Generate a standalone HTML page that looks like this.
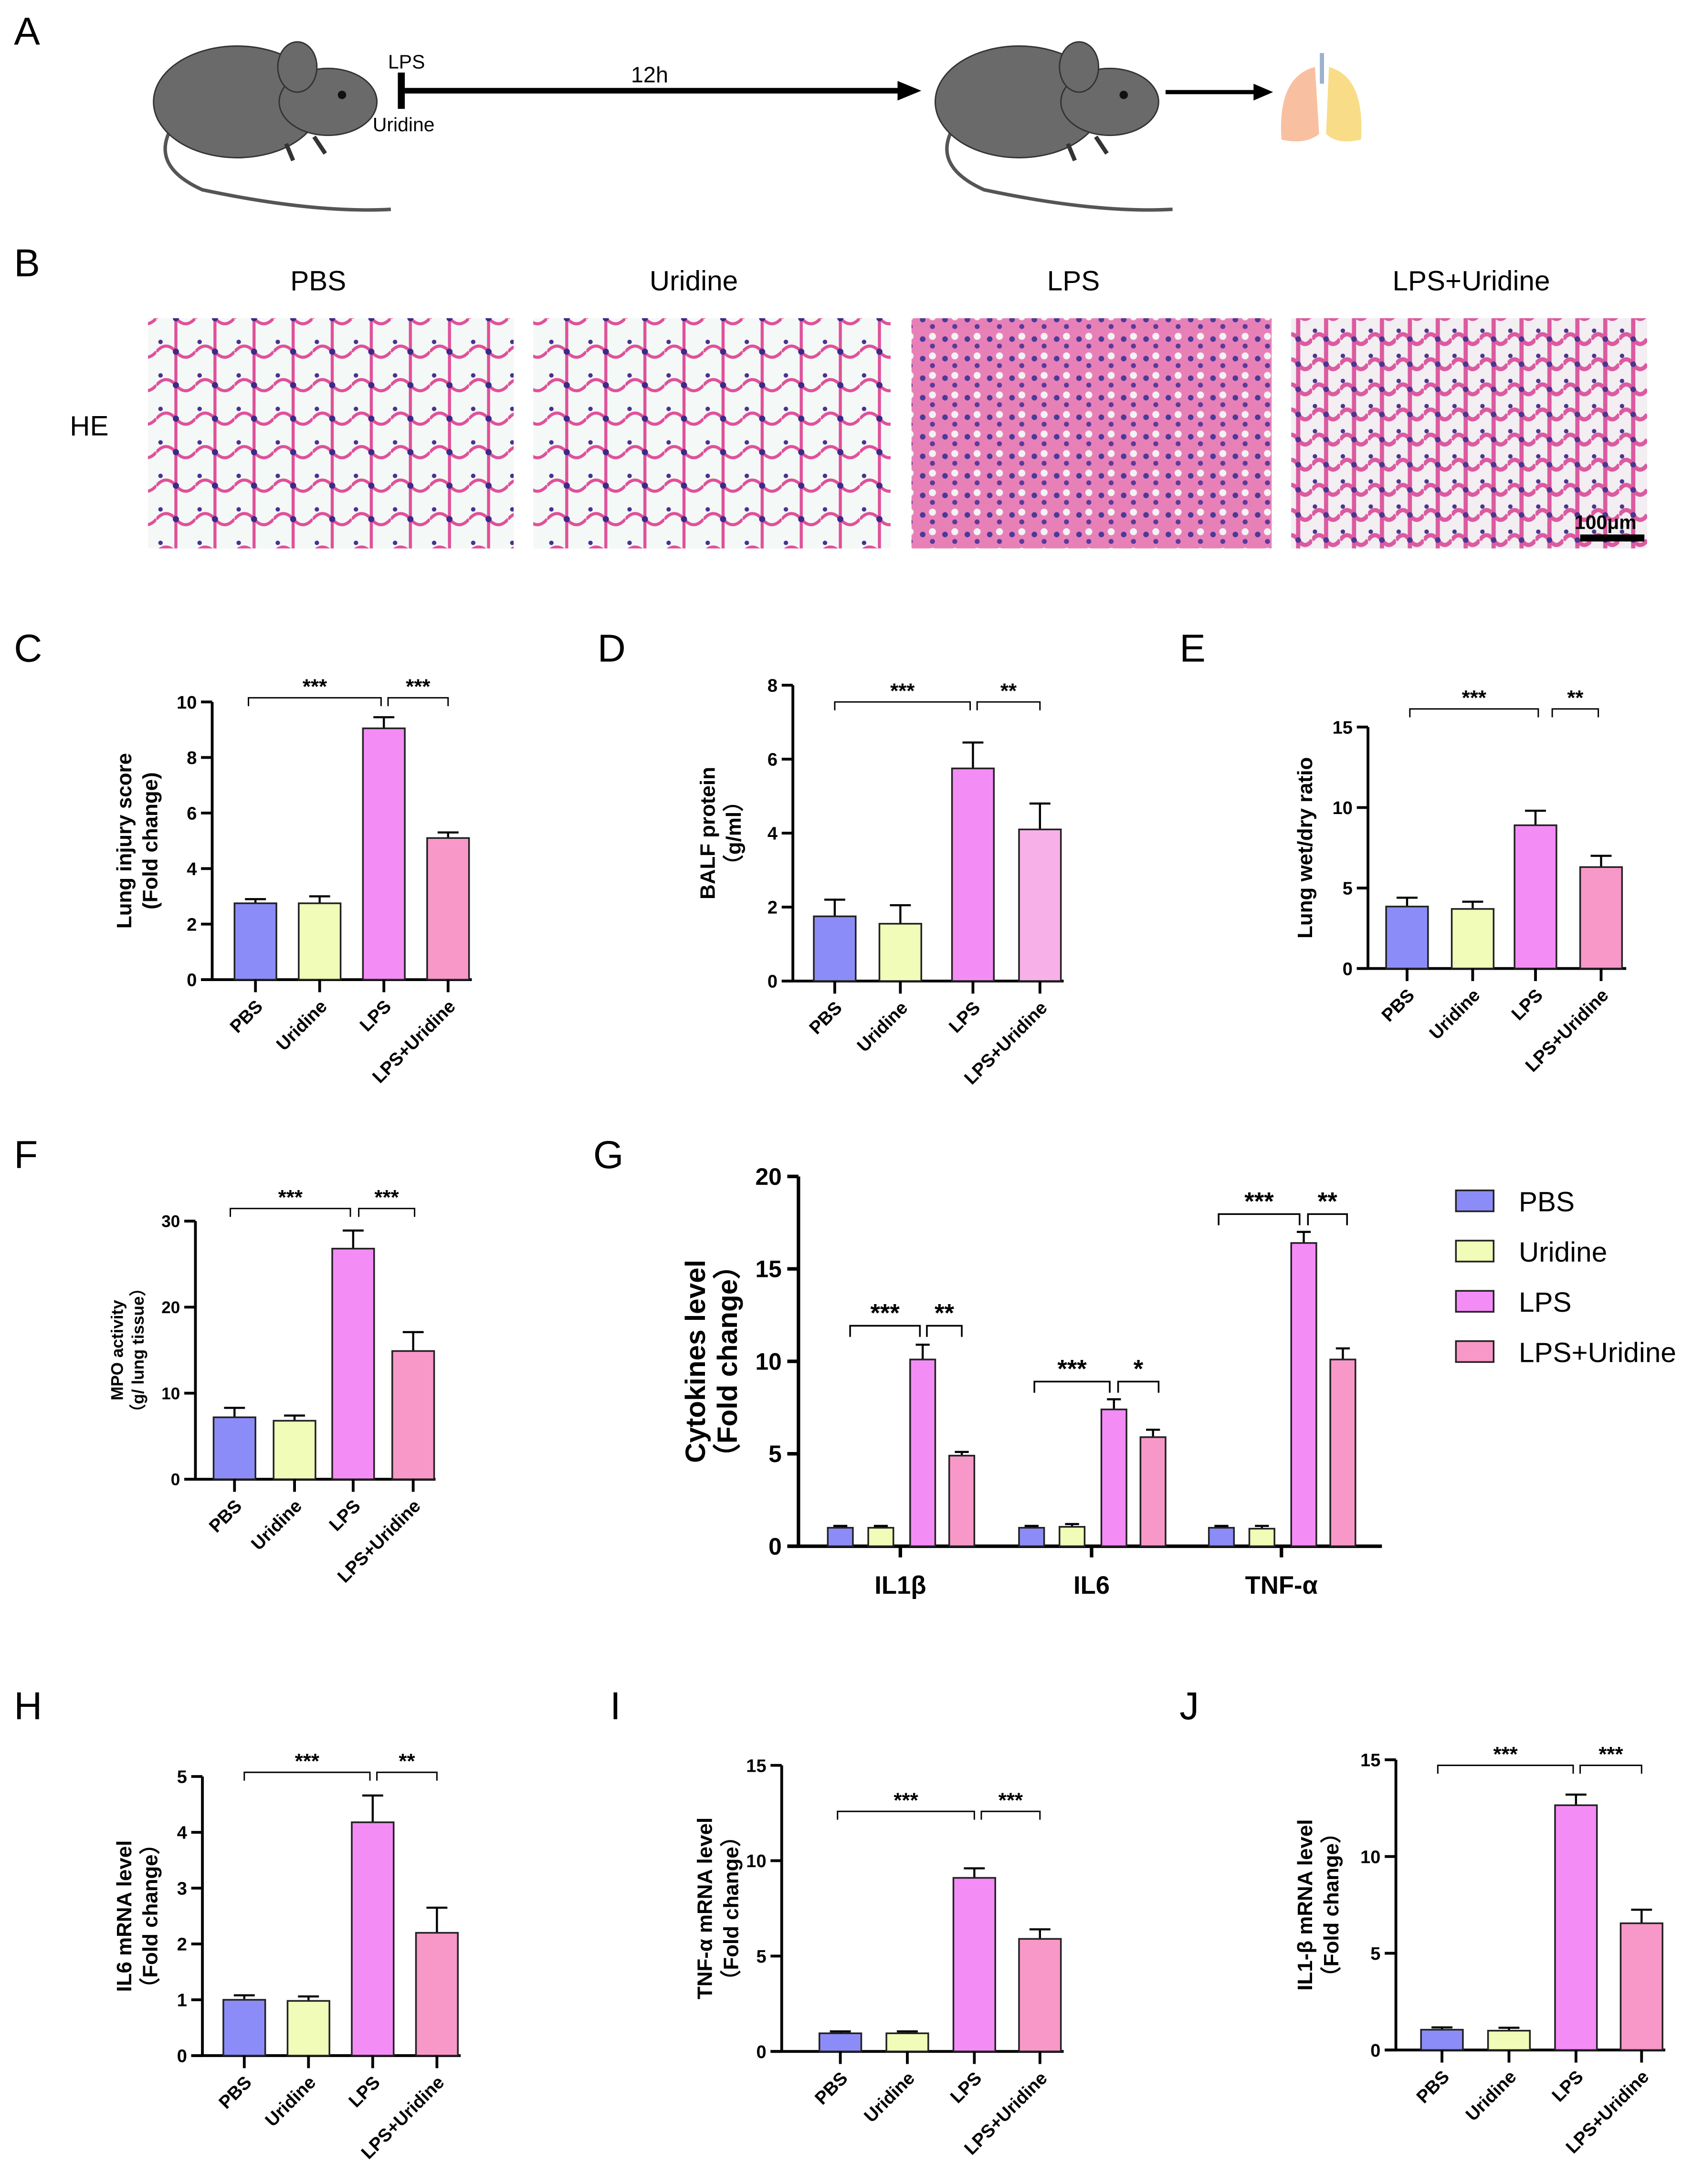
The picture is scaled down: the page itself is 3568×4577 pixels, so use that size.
<!DOCTYPE html>
<html><head><meta charset="utf-8"><style>
html,body{margin:0;padding:0;background:#fff;}
svg{display:block;font-family:"Liberation Sans",Arial,sans-serif;}
</style></head><body>
<svg id="fig" width="3568" height="4577" viewBox="0 0 1220 1565" xmlns="http://www.w3.org/2000/svg">
<defs>
<pattern id="hePat" width="28" height="24" patternUnits="userSpaceOnUse">
<rect width="28" height="24" fill="#f4f8f6"/>
<path d="M0 12 Q7 4 14 12 T28 12 M14 0 V24" stroke="#e0509a" stroke-width="2.2" fill="none"/>
<circle cx="14" cy="12" r="2.2" fill="#3a2a8a"/><circle cx="3" cy="5" r="1.6" fill="#4a3090"/>
</pattern>
<pattern id="hePat2" width="16" height="14" patternUnits="userSpaceOnUse">
<rect width="16" height="14" fill="#e880b8"/>
<circle cx="5" cy="5" r="2" fill="#4a3a9a"/><circle cx="12" cy="10" r="1.8" fill="#5a3a9a"/><circle cx="12" cy="3" r="2.5" fill="#f3f3f5"/>
</pattern>
<pattern id="hePat3" width="20" height="18" patternUnits="userSpaceOnUse">
<rect width="20" height="18" fill="#f2eef2"/>
<path d="M0 9 Q5 2 10 9 T20 9 M10 0 V18" stroke="#dc5aa0" stroke-width="3" fill="none"/>
<circle cx="10" cy="9" r="2" fill="#4a3590"/><circle cx="2" cy="3" r="1.6" fill="#4a3590"/>
</pattern>
</defs>
<g id="root"></g>
</svg>
<script>
const NS="http://www.w3.org/2000/svg";
const root=document.getElementById('root');
function mk(tag,attrs,parent,txt){const e=document.createElementNS(NS,tag);for(const k in attrs)e.setAttribute(k,attrs[k]);if(txt!==undefined)e.textContent=txt;(parent||root).appendChild(e);return e;}

const groups=["PBS","Uridine","LPS","LPS+Uridine"];
const cTicks=[0,2,4,6,8,10];
const cValues=[2.75,2.75,9.05,5.1];
const cErrors=[0.15,0.25,0.4,0.2];
const dTicks=[0,2,4,6,8];
const dValues=[1.75,1.55,5.75,4.1];
const dErrors=[0.45,0.5,0.7,0.7];
const eTicks=[0,5,10,15];
const eValues=[3.85,3.7,8.9,6.3];
const eErrors=[0.55,0.45,0.9,0.7];
const fTicks=[0,10,20,30];
const fValues=[7.2,6.8,26.8,14.9];
const fErrors=[1.1,0.6,2.1,2.2];
const gCategories=["IL1β","IL6","TNF-α"];
const gTicks=[0,5,10,15,20];
const gPBS=[1,1,1];
const gUridine=[1,1.05,0.95];
const gLPS=[10.1,7.4,16.4];
const gLPSU=[4.9,5.9,10.1];
const gErrPBS=[0.1,0.1,0.1];
const gErrUridine=[0.1,0.15,0.15];
const gErrLPS=[0.8,0.55,0.6];
const gErrLPSU=[0.2,0.4,0.6];
const hTicks=[0,1,2,3,4,5];
const hValues=[1.0,0.98,4.18,2.2];
const hErrors=[0.08,0.08,0.48,0.45];
const iTicks=[0,5,10,15];
const iValues=[0.95,0.95,9.1,5.9];
const iErrors=[0.1,0.1,0.5,0.5];
const jTicks=[0,5,10,15];
const jValues=[1.05,1.0,12.65,6.55];
const jErrors=[0.12,0.15,0.55,0.7];

const colors=["#8c8cf8","#f0fcb8","#f48cf6","#f898c8"];

function panelLetter(t,x,y){const e=mk('text',{x:x,y:y,'font-size':28},root,t);}

function barPanel(o){
  const g=mk('g',{});
  const max=o.ticks[o.ticks.length-1];
  const y=v=>o.y0-(v/max)*(o.y0-o.y1);
  const fs=o.fs||13;
  mk('line',{x1:o.ax,y1:o.y1,x2:o.ax,y2:o.y0,stroke:'#000','stroke-width':2},g);
  mk('line',{x1:o.ax-8,y1:o.y0,x2:o.xend,y2:o.y0,stroke:'#000','stroke-width':2},g);
  o.ticks.forEach(t=>{mk('line',{x1:o.ax-8,y1:y(t),x2:o.ax,y2:y(t),stroke:'#000','stroke-width':2},g);
    const tl=mk('text',{x:o.ax-11,y:y(t)+fs*0.36,'font-size':fs,'font-weight':'bold','text-anchor':'end'},g,t);});
  const w=o.bw||30;
  o.values.forEach((v,i)=>{const cx=o.cx[i];
    const col=(o.colors||colors)[i];
    mk('line',{x1:cx,y1:y(v),x2:cx,y2:y(v+o.errors[i]),stroke:'#000','stroke-width':1.5},g);
    mk('line',{x1:cx-w/4,y1:y(v+o.errors[i]),x2:cx+w/4,y2:y(v+o.errors[i]),stroke:'#000','stroke-width':1.5},g);
    const b=mk('rect',{x:cx-w/2,y:y(v),width:w,height:o.y0-y(v),fill:col,stroke:'#222','stroke-width':1.2},g);
    
    mk('line',{x1:cx,y1:o.y0,x2:cx,y2:o.y0+9,stroke:'#000','stroke-width':2},g);
    const lbl=mk('text',{x:cx+6,y:o.y0+20,'font-size':13,'font-weight':'bold','text-anchor':'end',transform:`rotate(-45 ${cx+6} ${o.y0+20})`},g,groups[i]);
    
  });
  o.sig.forEach(s=>{const yy=s[3];
    mk('path',{d:`M${s[0]} ${yy+6} V${yy} H${s[1]} V${yy+6}`,stroke:'#000','stroke-width':1,fill:'none'},g);
    const st=mk('text',{x:(s[0]+s[1])/2,y:yy-3,'font-size':o.sfs||15,'font-weight':'bold','text-anchor':'middle'},g,s[2]);});
  const lx=o.lx,ly=(o.y0+o.y1)/2;
  o.ylabel.forEach((t,k)=>{const yl=mk('text',{x:lx+k*(o.lfs||15)*1.25,y:ly,'font-size':o.lfs||15,'font-weight':'bold','text-anchor':'middle',transform:`rotate(-90 ${lx+k*(o.lfs||15)*1.25} ${ly})`},g,t);
    });
}

panelLetter('A',10,32);panelLetter('B',10,198);panelLetter('C',10,474);panelLetter('D',428,474);
panelLetter('E',845,474);panelLetter('F',10,837);panelLetter('G',425,837);panelLetter('H',10,1232);
panelLetter('I',437,1232);panelLetter('J',845,1232);

function mouse(x,y,name){const g=mk('g',{transform:`translate(${x},${y})`});
  mk('path',{d:'M20 70 Q0 100 40 118 Q120 135 175 132',stroke:'#555',fill:'none','stroke-width':2.5},g);
  mk('ellipse',{cx:65,cy:55,rx:60,ry:40,fill:'#6a6a6a',stroke:'#333'},g);
  mk('ellipse',{cx:130,cy:55,rx:35,ry:24,fill:'#6a6a6a',stroke:'#333'},g);
  mk('ellipse',{cx:108,cy:30,rx:14,ry:18,fill:'#6a6a6a',stroke:'#333'},g);
  mk('circle',{cx:140,cy:50,r:3,fill:'#111'},g);
  mk('path',{d:'M100 85 l5 12 M120 80 l8 12',stroke:'#333','stroke-width':3},g);}
mouse(105,18,'mouse-before');mouse(665,18,'mouse-after');
mk('rect',{x:285,y:52,width:5,height:26,fill:'#000'});
mk('line',{x1:290,y1:65,x2:645,y2:65,stroke:'#000','stroke-width':4});
mk('path',{d:'M643 58 L660 65 L643 72 Z',fill:'#000'});
mk('line',{x1:835,y1:66,x2:900,y2:66,stroke:'#000','stroke-width':3});
mk('path',{d:'M898 60 L912 66 L898 72 Z',fill:'#000'});
let t=mk('text',{x:278,y:49,'font-size':14},root,'LPS');
t=mk('text',{x:267,y:94,'font-size':14},root,'Uridine');
t=mk('text',{x:452,y:59,'font-size':16},root,'12h');
const lung=mk('g',{});
mk('path',{d:'M942 48 Q915 55 918 100 Q935 104 945 96 Z',fill:'#f8c0a0'},lung);
mk('path',{d:'M952 48 Q978 55 975 100 Q958 104 950 96 Z',fill:'#f8dc88'},lung);
mk('line',{x1:947,y1:38,x2:947,y2:60,stroke:'#9ab0d0','stroke-width':3},lung);

const bTitles=["PBS","Uridine","LPS","LPS+Uridine"];
const bTitleX=[228,497,769,1054];
const bX=[106,382,653,925],bW=[262,256,258,255],bFill=['url(#hePat)','url(#hePat)','url(#hePat2)','url(#hePat3)'];
bTitles.forEach((s,i)=>{const tt=mk('text',{x:bTitleX[i],y:208,'font-size':20,'text-anchor':'middle'},root,s);
  const r=mk('rect',{x:bX[i],y:228,width:bW[i],height:165,fill:bFill[i]});});
t=mk('text',{x:50,y:312,'font-size':20},root,'HE');
mk('rect',{x:1132,y:383,width:46,height:5,fill:'#000'});
t=mk('text',{x:1128,y:379,'font-size':14,'font-weight':'bold'},root,'100μm');

barPanel({id:'c',ax:152,y0:702,y1:503,xend:338,cx:[183,229,275,321],ticks:cTicks,values:cValues,errors:cErrors,
  sig:[[178,273,'***',500],[278,321,'***',500]],ylabel:['Lung injury score','(Fold change)'],lx:94});
barPanel({id:'d',ax:568,y0:703,y1:491,xend:762,cx:[598,645,697,745],ticks:dTicks,values:dValues,errors:dErrors,colors:["#8c8cf8","#f0fcb8","#f48cf6","#f8b0e8"],
  sig:[[598,695,'***',503],[700,745,'**',503]],ylabel:['BALF protein','（g/ml）'],lx:512});
barPanel({id:'e',ax:980,y0:694,y1:521,xend:1165,cx:[1008,1055,1100,1147],ticks:eTicks,values:eValues,errors:eErrors,
  sig:[[1010,1102,'***',508],[1112,1145,'**',508]],ylabel:['Lung wet/dry ratio'],lx:940});
barPanel({id:'f',ax:140,y0:1060,y1:875,xend:312,cx:[168,211,253,296],ticks:fTicks,values:fValues,errors:fErrors,fs:12,lfs:12,
  sig:[[165,251,'***',866],[257,297,'***',866]],ylabel:['MPO activity','（g/ lung tissue）'],lx:88});
barPanel({id:'h',ax:145,y0:1473,y1:1273,xend:330,cx:[175,221,267,313],ticks:hTicks,values:hValues,errors:hErrors,
  sig:[[175,265,'***',1270],[270,313,'**',1270]],ylabel:['IL6 mRNA level','（Fold change）'],lx:94});
barPanel({id:'i',ax:560,y0:1470,y1:1265,xend:762,cx:[602,650,698,745],ticks:iTicks,values:iValues,errors:iErrors,
  sig:[[600,698,'***',1298],[703,745,'***',1298]],ylabel:['TNF-α mRNA level','（Fold change）'],lx:510});
barPanel({id:'j',ax:1000,y0:1469,y1:1261,xend:1193,cx:[1033,1081,1129,1176],ticks:jTicks,values:jValues,errors:jErrors,
  sig:[[1030,1127,'***',1265],[1132,1176,'***',1265]],ylabel:['IL1-β mRNA level','（Fold change）'],lx:940});

(function(){
  const g=mk('g',{});
  const ax=572,y0=1108,y1=843,max=20,y=v=>y0-(v/max)*(y0-y1);
  mk('line',{x1:ax,y1:y1,x2:ax,y2:y0,stroke:'#000','stroke-width':2.5},g);
  mk('line',{x1:ax-8,y1:y0,x2:990,y2:y0,stroke:'#000','stroke-width':2.5},g);
  gTicks.forEach(tk=>{mk('line',{x1:ax-8,y1:y(tk),x2:ax,y2:y(tk),stroke:'#000','stroke-width':2.5},g);
    const tl=mk('text',{x:ax-12,y:y(tk)+6,'font-size':17,'font-weight':'bold','text-anchor':'end'},g,tk);});
  const series=[gPBS,gUridine,gLPS,gLPSU],errs=[gErrPBS,gErrUridine,gErrLPS,gErrLPSU];
  const gc=[645,782,918],off=[-43,-14,16,44],w=18;
  gCategories.forEach((c,ci)=>{
    series.forEach((s,si)=>{const cx=gc[ci]+off[si],v=s[ci],e=errs[si][ci];
      mk('line',{x1:cx,y1:y(v),x2:cx,y2:y(v+e),stroke:'#000','stroke-width':1.5},g);
      mk('line',{x1:cx-5,y1:y(v+e),x2:cx+5,y2:y(v+e),stroke:'#000','stroke-width':1.5},g);
      const b=mk('rect',{x:cx-w/2,y:y(v),width:w,height:y0-y(v),fill:colors[si],stroke:'#222','stroke-width':1.2},g);
      });
    mk('line',{x1:gc[ci],y1:y0,x2:gc[ci],y2:y0+8,stroke:'#000','stroke-width':2.5},g);
    const l=mk('text',{x:gc[ci],y:1142,'font-size':18,'font-weight':'bold','text-anchor':'middle'},g,c);
  });
  const sig=[[609,659,'***',950],[664,689,'**',950],[741,795,'***',990],[801,830,'*',990],[873,931,'***',870],[937,965,'**',870]];
  sig.forEach(s=>{mk('path',{d:`M${s[0]} ${s[3]+8} V${s[3]} H${s[1]} V${s[3]+8}`,stroke:'#000','stroke-width':1.2,fill:'none'},g);
    const st=mk('text',{x:(s[0]+s[1])/2,y:s[3]-3,'font-size':18,'font-weight':'bold','text-anchor':'middle'},g,s[2]);});
  const ly=(y0+y1)/2;
  [['Cytokines level',505],['（Fold change）',528]].forEach(p=>{const yl=mk('text',{x:p[1],y:ly,'font-size':20,'font-weight':'bold','text-anchor':'middle',transform:`rotate(-90 ${p[1]} ${ly})`},g,p[0]);});
  const lg=mk('g',{});
  groups.forEach((n,i)=>{const yy=861+i*36;
    mk('rect',{x:1043,y:yy-8,width:27,height:15,fill:colors[i],stroke:'#222','stroke-width':1.2},lg);
    const lt=mk('text',{x:1088,y:yy+7,'font-size':20},lg,n);});
})();
</script>
</body></html>
